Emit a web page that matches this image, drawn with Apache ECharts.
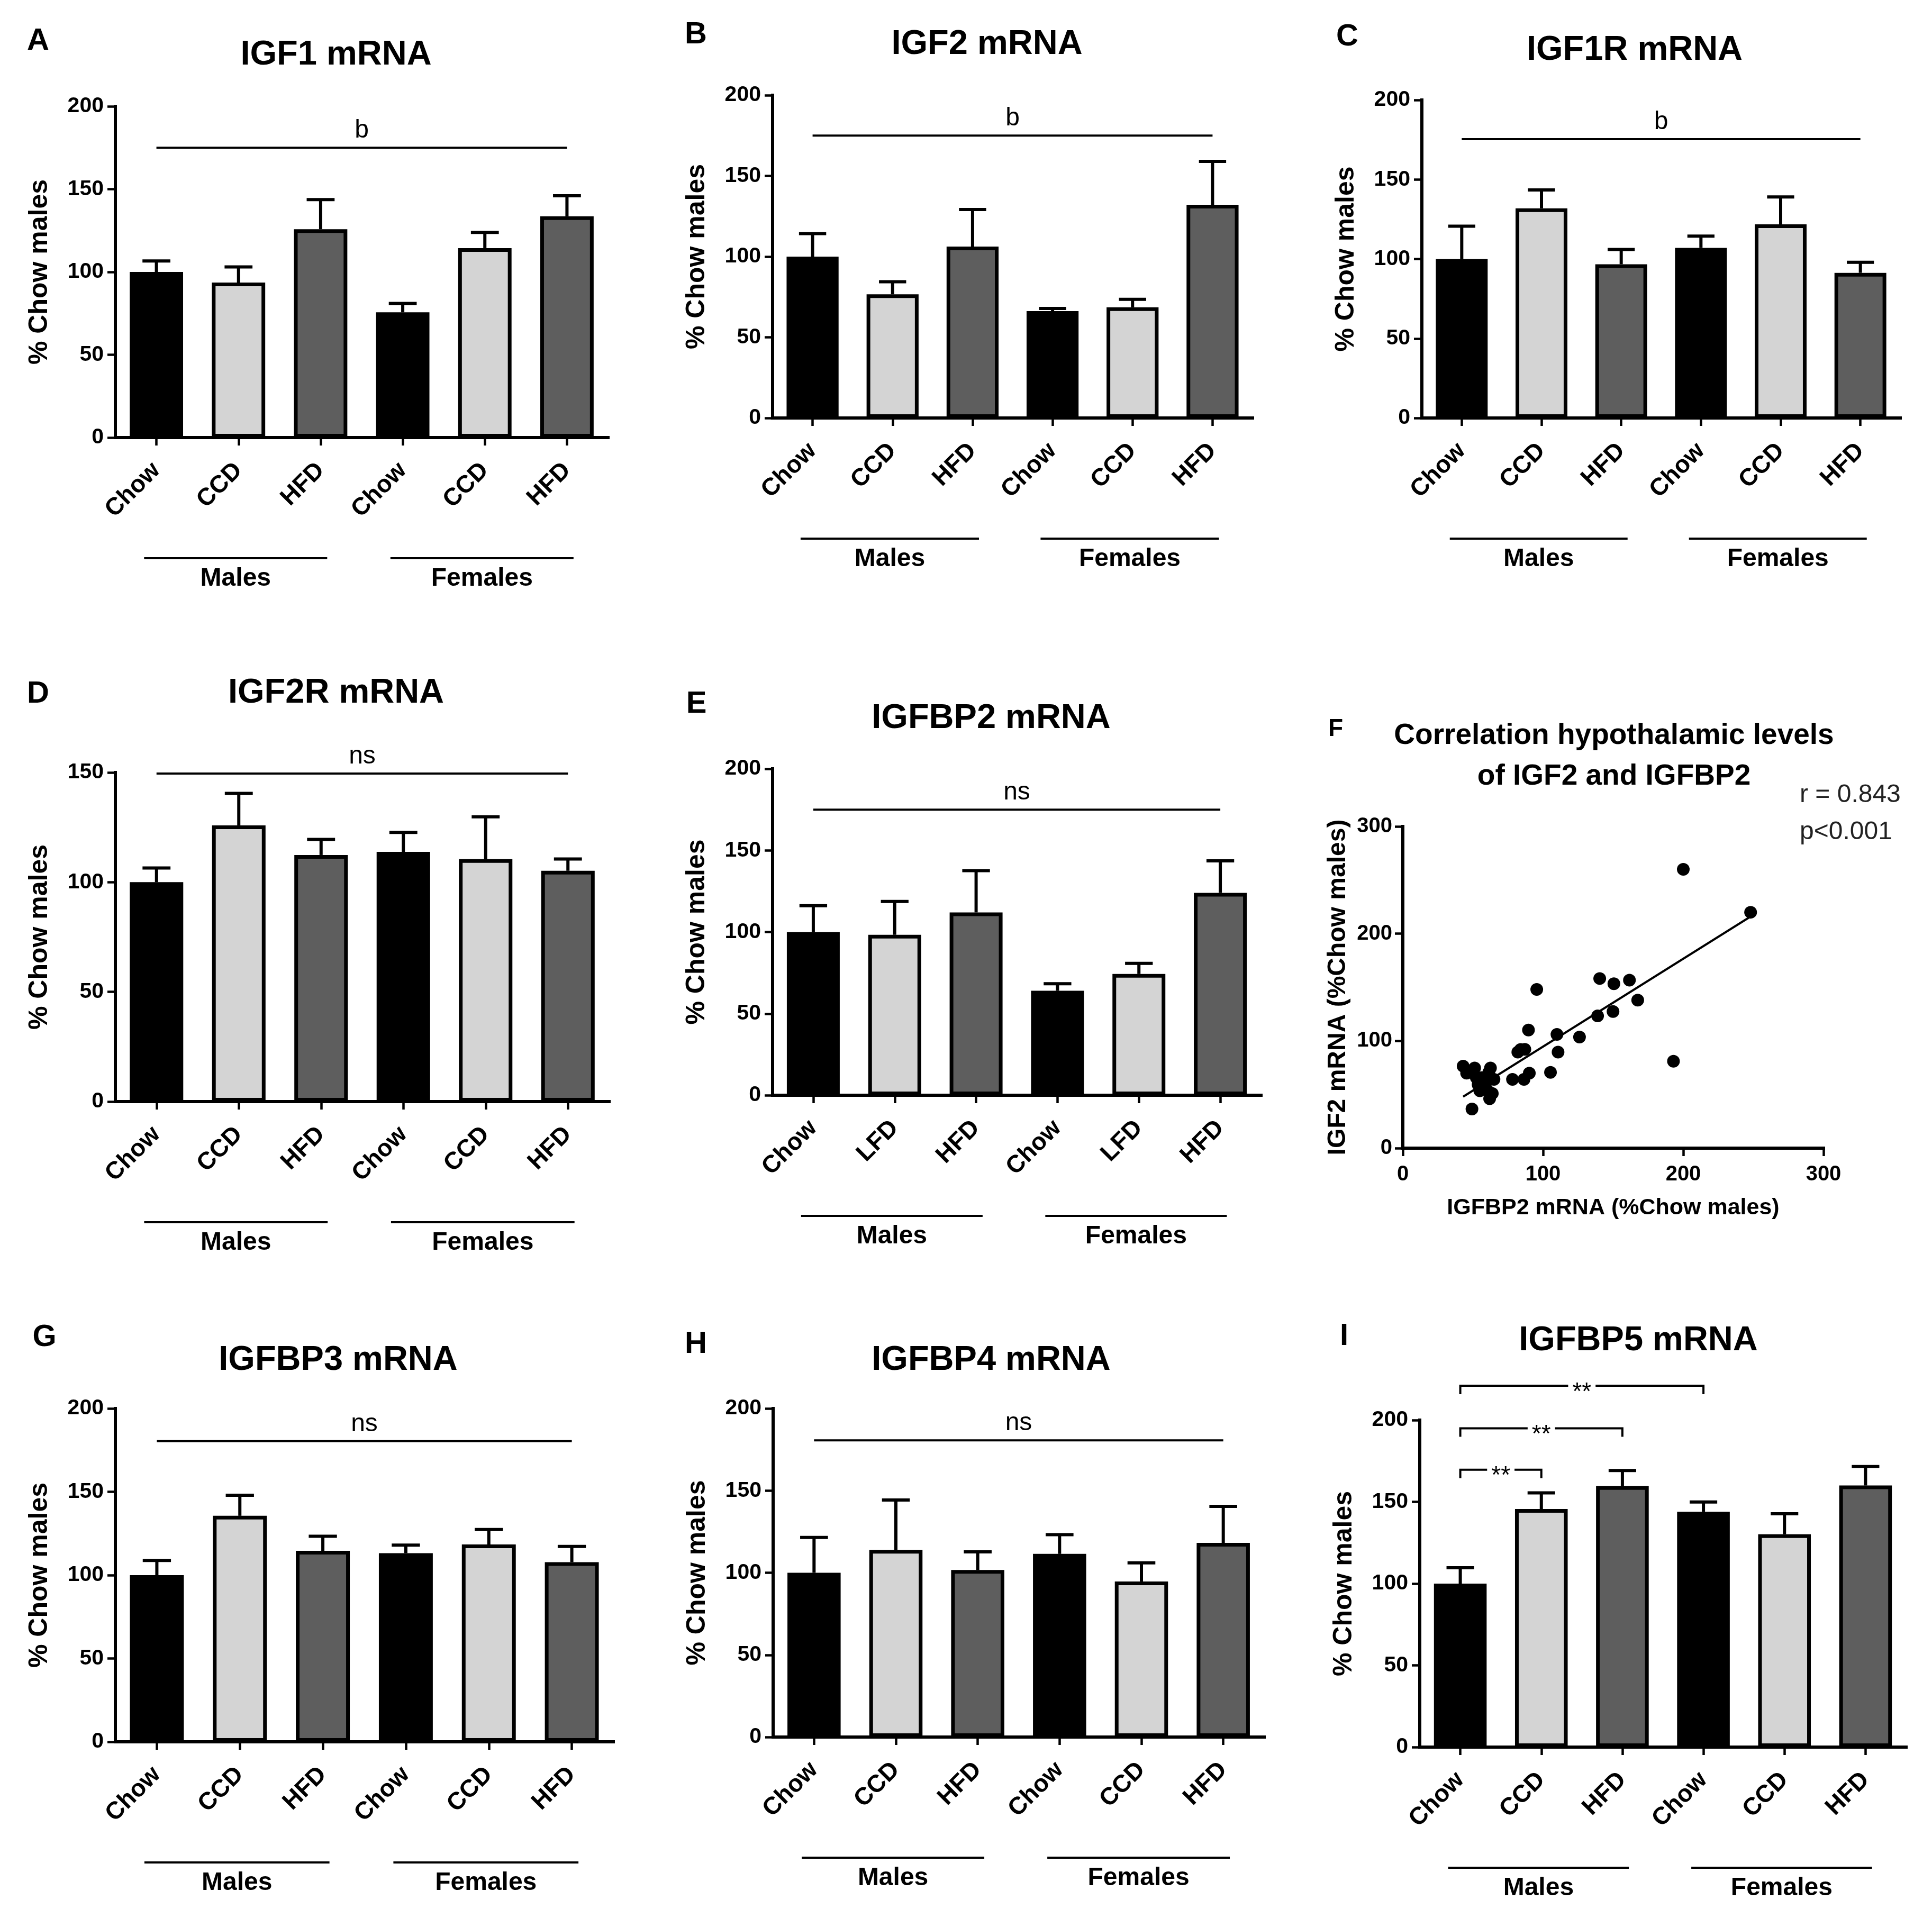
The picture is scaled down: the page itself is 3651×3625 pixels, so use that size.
<!DOCTYPE html>
<html><head><meta charset="utf-8">
<script src="https://cdn.jsdelivr.net/npm/echarts@6/dist/echarts.min.js"></script>
<style>html,body{margin:0;padding:0;background:#fff}#c{width:3651px;height:3625px}</style>
</head><body><div id="c"></div>
<script>
const FONT = '"Liberation Sans", Arial, Helvetica, sans-serif';

// ---------- data ----------
const dietCCD = ['Chow', 'CCD', 'HFD', 'Chow', 'CCD', 'HFD'];
const dietLFD = ['Chow', 'LFD', 'HFD', 'Chow', 'LFD', 'HFD'];
const sexGroups = ['Males', 'Females'];
const sexGroupRanges = [[0, 2], [3, 5]];
const barFills = ['#000000', '#d4d4d4', '#5e5e5e', '#000000', '#d4d4d4', '#5e5e5e'];

const igf1Mean = [100, 93.6, 125.8, 75.6, 114.4, 133.6];
const igf1Sem = [6.6, 9.4, 17.9, 5.4, 9.5, 12.4];
const igf2Mean = [100, 76.6, 106.2, 66.2, 68.6, 132.1];
const igf2Sem = [14.3, 7.8, 23, 1.7, 4.9, 26.9];
const igf1rMean = [100, 131.9, 96.7, 107, 121.8, 91.3];
const igf1rSem = [20.6, 11.5, 9.3, 7.4, 17.2, 6.6];
const igf2rMean = [100, 125.9, 112.4, 113.8, 110.5, 105.2];
const igf2rSem = [6.5, 14.6, 7.1, 8.9, 19.3, 5.4];
const igfbp2Mean = [100, 98.3, 112, 64, 74.3, 124];
const igfbp2Sem = [16.1, 20.4, 25.6, 4.3, 6.5, 19.6];
const igfbp3Mean = [100, 135.6, 114.6, 113.2, 118.4, 107.8];
const igfbp3Sem = [8.8, 12.3, 8.7, 4.8, 9, 9.4];
const igfbp4Mean = [100, 113.9, 101.7, 111.5, 94.7, 118.2];
const igfbp4Sem = [21.5, 30.4, 11, 11.7, 11.3, 22.2];
const igfbp5Mean = [100, 145.6, 159.6, 143.9, 130.2, 160];
const igfbp5Sem = [9.7, 9.9, 9.6, 6, 12.5, 11.6];

// overall significance line: [fromIndex, toIndex, yValue]
const sigA = [[0, 5, 175]], sigB = [[0, 5, 175]], sigC = [[0, 5, 175.4]];
const sigD = [[0, 5, 149.5]], sigE = [[0, 5, 175]], sigG = [[0, 5, 180.4]], sigH = [[0, 5, 180.6]];
const sigTextABC = 'b', sigTextNs = 'ns';
// pairwise brackets for IGFBP5: [fromIndex, toIndex, yValue]
const bracketsI = [[0, 1, 169.7], [0, 2, 195], [0, 3, 221]];
const bracketText = '**';

// correlation IGFBP2 (x) vs IGF2 (y), % Chow males
const corrPoints = [
  [95.5, 148], [140.4, 158.2], [150.5, 153.3], [161.6, 156.7], [167.5, 138], [149.9, 127.4],
  [138.9, 123.3], [89.6, 110.2], [109.9, 106.1], [126, 103.6], [110.7, 89.6], [82, 89.6],
  [87, 92.1], [84, 92], [105.3, 70.7], [90.2, 69.9], [86.4, 64.1], [78.2, 64.1], [43, 76.5],
  [51.2, 74.8], [45.5, 69.9], [62.5, 74.8], [61.3, 70.7], [49.3, 36.5], [61.9, 46.1],
  [58.7, 57.6], [53.7, 59.2], [65, 64.1], [56.2, 65.8], [60, 54.3], [63.8, 51], [54.9, 53.5],
  [52.4, 65.8], [57.5, 62], [200, 260], [248, 220], [193, 81]
];
const fitLine = [[43, 48], [248, 216]];
const corrStats = ['r = 0.843', 'p<0.001'];

// ---------- layout ----------
const barPanels = [
  { letter: 'A', title: 'IGF1 mRNA', cats: dietCCD, mean: igf1Mean, sem: igf1Sem, max: 200, sig: sigA, sigText: sigTextABC,
    grid: { left: 218, top: 201, width: 931, height: 626 }, titlePos: [635, 104], letterPos: [72, 78] },
  { letter: 'B', title: 'IGF2 mRNA', cats: dietCCD, mean: igf2Mean, sem: igf2Sem, max: 200, sig: sigB, sigText: sigTextABC,
    grid: { left: 1460, top: 180, width: 907, height: 610 }, titlePos: [1865, 84], letterPos: [1315, 66] },
  { letter: 'C', title: 'IGF1R mRNA', cats: dietCCD, mean: igf1rMean, sem: igf1rSem, max: 200, sig: sigC, sigText: sigTextABC,
    grid: { left: 2687, top: 189, width: 904, height: 601 }, titlePos: [3089, 95], letterPos: [2546, 70] },
  { letter: 'D', title: 'IGF2R mRNA', cats: dietCCD, mean: igf2rMean, sem: igf2rSem, max: 150, sig: sigD, sigText: sigTextNs,
    grid: { left: 218, top: 1460, width: 933, height: 622 }, titlePos: [635, 1310], letterPos: [72, 1312] },
  { letter: 'E', title: 'IGFBP2 mRNA', cats: dietLFD, mean: igfbp2Mean, sem: igfbp2Sem, max: 200, sig: sigE, sigText: sigTextNs,
    grid: { left: 1460, top: 1453, width: 923, height: 617 }, titlePos: [1873, 1358], letterPos: [1316, 1331] },
  { letter: 'G', title: 'IGFBP3 mRNA', cats: dietCCD, mean: igfbp3Mean, sem: igfbp3Sem, max: 200, sig: sigG, sigText: sigTextNs,
    grid: { left: 218, top: 2662, width: 941, height: 630 }, titlePos: [639, 2571], letterPos: [84, 2528] },
  { letter: 'H', title: 'IGFBP4 mRNA', cats: dietCCD, mean: igfbp4Mean, sem: igfbp4Sem, max: 200, sig: sigH, sigText: sigTextNs,
    grid: { left: 1461, top: 2662, width: 928, height: 621 }, titlePos: [1873, 2571], letterPos: [1315, 2541] },
  { letter: 'I', title: 'IGFBP5 mRNA', cats: dietCCD, mean: igfbp5Mean, sem: igfbp5Sem, max: 200, brackets: bracketsI,
    grid: { left: 2683, top: 2684, width: 919, height: 618 }, titlePos: [3096, 2534], letterPos: [2540, 2526] }
];
const scatterPanel = { letter: 'F', grid: { left: 2651, top: 1562, width: 795, height: 608 },
  titleLines: ['Correlation hypothalamic levels', 'of IGF2 and IGFBP2'], titlePos: [3050, 1391], titleGap: 77,
  letterPos: [2524, 1378], statsPos: [3401, 1503], statsGap: 70 };

// ---------- build ----------
const grids = [], xAxes = [], yAxes = [], series = [], graphics = [];

function axisLineStyle() { return { show: true, lineStyle: { color: '#000', width: 6, cap: 'square' } }; }
function tickStyle() { return { show: true, inside: false, length: 15, lineStyle: { color: '#000', width: 4.5 } }; }

function errRender(params, api) {
  const i = api.value(0), m = api.value(1), s = api.value(2);
  const p0 = api.coord([i, m]), p1 = api.coord([i, m + s]);
  const cap = api.size([1, 0])[0] * 0.17;
  return { type: 'group', children: [
    { type: 'line', shape: { x1: p0[0], y1: p0[1], x2: p1[0], y2: p1[1] }, style: { stroke: '#000', lineWidth: 6 } },
    { type: 'line', shape: { x1: p1[0] - cap, y1: p1[1], x2: p1[0] + cap, y2: p1[1] }, style: { stroke: '#000', lineWidth: 6 } }
  ] };
}
function sigRenderFactory(text) {
  return function (params, api) {
    const a = api.coord([api.value(0), api.value(2)]), b = api.coord([api.value(1), api.value(2)]);
    return { type: 'group', children: [
      { type: 'line', shape: { x1: a[0], y1: a[1], x2: b[0], y2: b[1] }, style: { stroke: '#000', lineWidth: 4 } },
      { type: 'text', x: (a[0] + b[0]) / 2, y: a[1] - 8,
        style: { text: text, font: '48px ' + FONT, fill: '#000', align: 'center', verticalAlign: 'bottom' } }
    ] };
  };
}
function bracketRender(params, api) {
  const a = api.coord([api.value(0), api.value(2)]), b = api.coord([api.value(1), api.value(2)]);
  const drop = 16;
  return { type: 'group', children: [
    { type: 'polyline', shape: { points: [[a[0], a[1] + drop], [a[0], a[1]], [b[0], b[1]], [b[0], b[1] + drop]] },
      style: { stroke: '#000', lineWidth: 4, fill: null } },
    { type: 'text', x: (a[0] + b[0]) / 2, y: a[1] + 13,
      style: { text: bracketText, font: '46px ' + FONT, fill: '#000', align: 'center', verticalAlign: 'middle',
        backgroundColor: '#fff', padding: [0, 8] } }
  ] };
}
function groupRender(params, api) {
  const bw = api.size([1, 0])[0];
  const a = api.coord([api.value(0), 0]), b = api.coord([api.value(1), 0]);
  const x1 = a[0] - 0.15 * bw, x2 = b[0] + 0.08 * bw;
  return { type: 'group', children: [
    { type: 'line', shape: { x1: x1, y1: a[1] + 228, x2: x2, y2: a[1] + 228 }, style: { stroke: '#000', lineWidth: 4 } },
    { type: 'text', x: (x1 + x2) / 2, y: a[1] + 267,
      style: { text: sexGroups[params.dataIndex], font: 'bold 48px ' + FONT, fill: '#000', align: 'center', verticalAlign: 'middle' } }
  ] };
}

barPanels.forEach(function (p, k) {
  grids.push(Object.assign({ containLabel: false, outerBoundsMode: 'none' }, p.grid));
  xAxes.push({ type: 'category', gridIndex: k, data: p.cats, boundaryGap: true,
    axisLine: axisLineStyle(), axisTick: Object.assign(tickStyle(), { alignWithLabel: true }),
    axisLabel: { interval: 0, rotate: 45, margin: 55,
      color: '#000', fontFamily: FONT, fontWeight: 'bold', fontSize: 46 },
    splitLine: { show: false } });
  yAxes.push({ type: 'value', gridIndex: k, min: 0, max: p.max, interval: 50,
    name: '% Chow males', nameLocation: 'middle', nameGap: 118,
    nameTextStyle: { color: '#000', fontFamily: FONT, fontWeight: 'bold', fontSize: 50 },
    axisLine: axisLineStyle(), axisTick: tickStyle(),
    axisLabel: { margin: 22, color: '#000', fontFamily: FONT, fontWeight: 'bold', fontSize: 41 },
    splitLine: { show: false } });
  series.push({ type: 'bar', xAxisIndex: k, yAxisIndex: k, barWidth: '65%', animation: false,
    data: p.mean.map(function (v, i) { return { value: v, itemStyle: { color: barFills[i] } }; }),
    itemStyle: { borderColor: '#000', borderWidth: 7 }, z: 2 });
  series.push({ type: 'custom', xAxisIndex: k, yAxisIndex: k, renderItem: errRender, clip: false, z: 3, animation: false,
    encode: { x: 0, y: 1 }, data: p.mean.map(function (v, i) { return [i, v, p.sem[i]]; }) });
  if (p.sig) {
    series.push({ type: 'custom', xAxisIndex: k, yAxisIndex: k, renderItem: sigRenderFactory(p.sigText), clip: false, z: 3,
      animation: false, encode: { x: [0, 1], y: 2 }, data: p.sig });
  }
  if (p.brackets) {
    series.push({ type: 'custom', xAxisIndex: k, yAxisIndex: k, renderItem: bracketRender, clip: false, z: 3,
      animation: false, encode: { x: [0, 1], y: 2 }, data: p.brackets });
  }
  series.push({ type: 'custom', xAxisIndex: k, yAxisIndex: k, renderItem: groupRender, clip: false, z: 3,
    animation: false, encode: { x: [0, 1] }, data: sexGroupRanges });
  graphics.push({ type: 'text', x: p.titlePos[0], y: p.titlePos[1],
    style: { text: p.title, font: 'bold 65px ' + FONT, fill: '#000', align: 'center', verticalAlign: 'middle' } });
  graphics.push({ type: 'text', x: p.letterPos[0], y: p.letterPos[1],
    style: { text: p.letter, font: 'bold 58px ' + FONT, fill: '#000', align: 'center', verticalAlign: 'middle' } });
});

// scatter panel F
const fk = grids.length;
grids.push(Object.assign({ containLabel: false, outerBoundsMode: 'none' }, scatterPanel.grid));
xAxes.push({ type: 'value', gridIndex: fk, min: 0, max: 300, interval: 100,
  name: 'IGFBP2 mRNA (%Chow males)', nameLocation: 'middle', nameGap: 92,
  nameTextStyle: { color: '#000', fontFamily: FONT, fontWeight: 'bold', fontSize: 43 },
  axisLine: axisLineStyle(), axisTick: tickStyle(),
  axisLabel: { margin: 30, color: '#000', fontFamily: FONT, fontWeight: 'bold', fontSize: 40 },
  splitLine: { show: false } });
yAxes.push({ type: 'value', gridIndex: fk, min: 0, max: 300, interval: 100,
  name: 'IGF2 mRNA (%Chow males)', nameLocation: 'middle', nameGap: 98,
  nameTextStyle: { color: '#000', fontFamily: FONT, fontWeight: 'bold', fontSize: 48 },
  axisLine: axisLineStyle(), axisTick: tickStyle(),
  axisLabel: { margin: 20, color: '#000', fontFamily: FONT, fontWeight: 'bold', fontSize: 40 },
  splitLine: { show: false } });
series.push({ type: 'line', xAxisIndex: fk, yAxisIndex: fk, data: fitLine, symbol: 'none', animation: false,
  lineStyle: { color: '#000', width: 4 }, z: 2 });
series.push({ type: 'scatter', xAxisIndex: fk, yAxisIndex: fk, data: corrPoints, symbol: 'circle', symbolSize: 24,
  animation: false, itemStyle: { color: '#000', opacity: 1 }, z: 3 });
scatterPanel.titleLines.forEach(function (t, i) {
  graphics.push({ type: 'text', x: scatterPanel.titlePos[0], y: scatterPanel.titlePos[1] + i * scatterPanel.titleGap,
    style: { text: t, font: 'bold 55px ' + FONT, fill: '#000', align: 'center', verticalAlign: 'middle' } });
});
graphics.push({ type: 'text', x: scatterPanel.letterPos[0], y: scatterPanel.letterPos[1],
  style: { text: scatterPanel.letter, font: 'bold 46px ' + FONT, fill: '#000', align: 'center', verticalAlign: 'middle' } });
corrStats.forEach(function (t, i) {
  graphics.push({ type: 'text', x: scatterPanel.statsPos[0], y: scatterPanel.statsPos[1] + i * scatterPanel.statsGap,
    style: { text: t, font: '48px ' + FONT, fill: '#222', align: 'left', verticalAlign: 'middle' } });
});

const chart = echarts.init(document.getElementById('c'), null, { renderer: 'canvas' });
chart.setOption({
  backgroundColor: '#ffffff',
  animation: false,
  textStyle: { fontFamily: FONT },
  grid: grids, xAxis: xAxes, yAxis: yAxes, series: series, graphic: graphics
});
</script></body></html>
